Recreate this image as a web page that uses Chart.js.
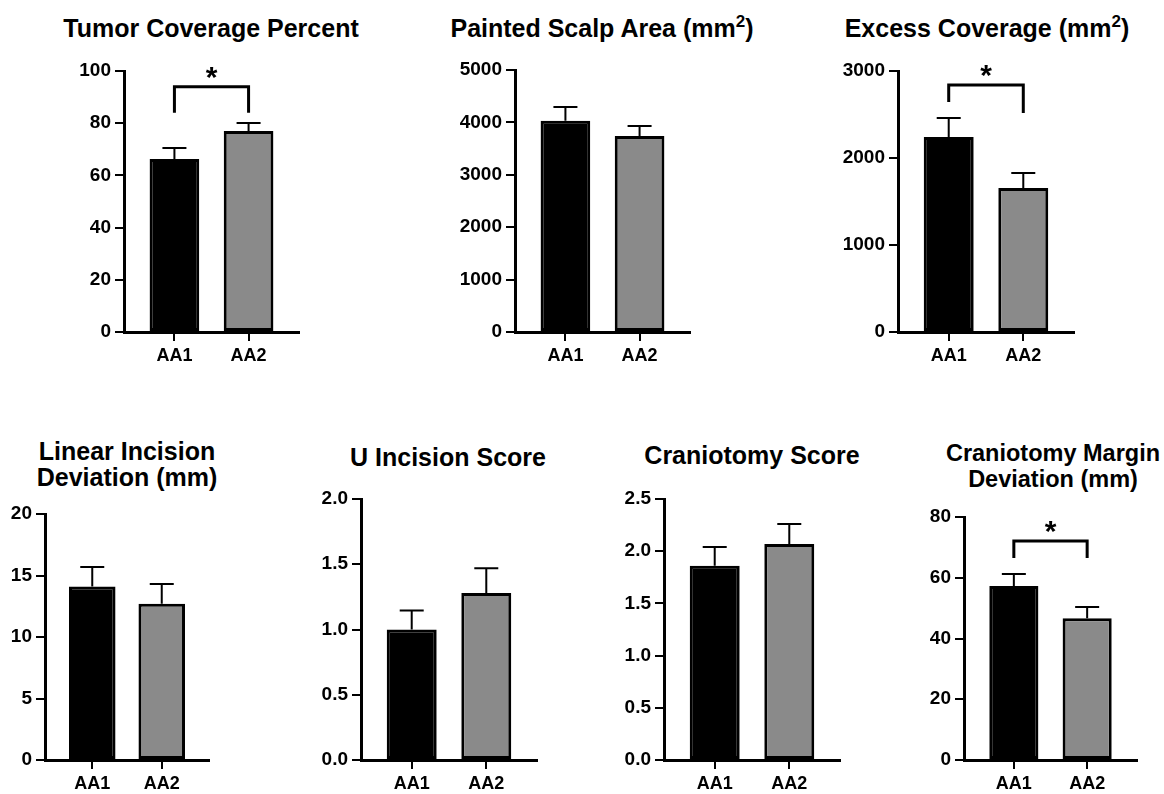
<!DOCTYPE html>
<html>
<head>
<meta charset="utf-8">
<script src="https://cdn.jsdelivr.net/npm/chart.js@4.4.1/dist/chart.umd.min.js"></script>
<style>
  body { margin: 0; background: #fff; width: 1164px; height: 794px; position: relative; overflow: hidden;
         font-family: "Liberation Sans", Arial, sans-serif; }
  .title { position: absolute; width: 400px; text-align: center; font-weight: bold; font-size: 25px;
           line-height: 26px; color: #000; white-space: nowrap; }
  .title sup { font-size: 17px; line-height: 0; vertical-align: 10px; }
  canvas { position: absolute; }
</style>
</head>
<body>
<script>
const categories = ['AA1', 'AA2'];
const groupColors = ['#000000', '#8a8a8a'];

// mean and SEM for each measure
const tumorMean = [66.3, 77.0];
const tumorSem = [4.2, 3.1];
const tumorTicks = ['0', '20', '40', '60', '80', '100'];
const tumorBracket = [84, 94, 84];

const scalpMean = [4030, 3740];
const scalpSem = [265, 190];
const scalpTicks = ['0', '1000', '2000', '3000', '4000', '5000'];

const excessMean = [2240, 1655];
const excessSem = [220, 173];
const excessTicks = ['0', '1000', '2000', '3000'];
const excessBracket = [2644, 2839, 2517];

const linearMean = [14.1, 12.7];
const linearSem = [1.6, 1.6];
const linearTicks = ['0', '5', '10', '15', '20'];

const uMean = [1.0, 1.28];
const uSem = [0.145, 0.19];
const uTicks = ['0.0', '0.5', '1.0', '1.5', '2.0'];

const cranioMean = [1.86, 2.07];
const cranioSem = [0.18, 0.19];
const cranioTicks = ['0.0', '0.5', '1.0', '1.5', '2.0', '2.5'];

const marginMean = [57.3, 46.7];
const marginSem = [3.9, 3.7];
const marginTicks = ['0', '20', '40', '60', '80'];
const marginBracket = [66.5, 72.1, 66.5];

const panels = [
  { title: 'Tumor Coverage Percent', mean: tumorMean, sem: tumorSem, ticks: tumorTicks, bracket: tumorBracket,
    axisX: 124, top: 71, bottom: 332, right: 299, titleX: 211, titleY: 15 },
  { title: 'Painted Scalp Area (mm<sup>2</sup>)', mean: scalpMean, sem: scalpSem, ticks: scalpTicks,
    axisX: 515, top: 70, bottom: 332, right: 690, titleX: 602, titleY: 15 },
  { title: 'Excess Coverage (mm<sup>2</sup>)', mean: excessMean, sem: excessSem, ticks: excessTicks, bracket: excessBracket,
    axisX: 898, top: 71, bottom: 332, right: 1074, titleX: 987, titleY: 15 },
  { title: 'Linear Incision<br>Deviation (mm)', mean: linearMean, sem: linearSem, ticks: linearTicks,
    axisX: 45, top: 514, bottom: 760, right: 209, titleX: 127, titleY: 438 },
  { title: 'U Incision Score', mean: uMean, sem: uSem, ticks: uTicks,
    axisX: 361, top: 499, bottom: 760, right: 537, titleX: 448, titleY: 444 },
  { title: 'Craniotomy Score', mean: cranioMean, sem: cranioSem, ticks: cranioTicks,
    axisX: 664, top: 499, bottom: 760, right: 840, titleX: 752, titleY: 442 },
  { title: 'Craniotomy Margin<br>Deviation (mm)', mean: marginMean, sem: marginSem, ticks: marginTicks, bracket: marginBracket,
    axisX: 964, top: 517, bottom: 760, right: 1137, titleX: 1053, titleY: 440, titleSize: 23.5 }
];

const fontFamily = '"Liberation Sans", Arial, sans-serif';

panels.forEach(p => {
  const t = document.createElement('div');
  t.className = 'title';
  t.innerHTML = p.title;
  t.style.left = (p.titleX - 200) + 'px';
  t.style.top = p.titleY + 'px';
  if (p.titleSize) t.style.fontSize = p.titleSize + 'px';
  document.body.appendChild(t);

  const YW = Math.min(72, p.axisX);
  const PT = 26, XH = 46, PR = 4;
  const w = p.right - p.axisX + YW + PR;
  const h = p.bottom - p.top + PT + XH;
  const cv = document.createElement('canvas');
  cv.width = w; cv.height = h;
  cv.style.left = (p.axisX - YW) + 'px';
  cv.style.top = (p.top - PT) + 'px';
  document.body.appendChild(cv);

  const tickVals = p.ticks.map(Number);

  new Chart(cv, {
    type: 'bar',
    data: {
      datasets: [{
        data: p.mean.map((m, i) => ({ x: i, y: m })),
        backgroundColor: groupColors,
        borderColor: '#000',
        borderWidth: 3,
        borderSkipped: false,
        categoryPercentage: 1,
        barPercentage: 0.67
      }]
    },
    options: {
      responsive: false,
      animation: false,
      layout: { padding: { top: PT, right: PR, left: 0, bottom: 0 } },
      plugins: { legend: { display: false }, tooltip: { enabled: false } },
      scales: {
        x: {
          type: 'linear', min: -0.68, max: 1.68, offset: false,
          afterBuildTicks: s => { s.ticks = categories.map((c, i) => ({ value: i })); },
          afterFit: s => { s.height = XH; },
          ticks: { callback: v => categories[v], color: '#000', padding: 4, maxRotation: 0, autoSkip: false,
                   font: { family: fontFamily, size: 18, weight: 'bold' } },
          grid: { offset: false, drawOnChartArea: false, tickLength: 9, color: '#000', lineWidth: 2 },
          border: { color: '#000', width: 3 }
        },
        y: {
          min: tickVals[0], max: tickVals[tickVals.length - 1],
          afterBuildTicks: s => { s.ticks = tickVals.map(v => ({ value: v })); },
          afterFit: s => { s.width = YW; },
          ticks: { callback: (v, i) => p.ticks[i], color: '#000', padding: 4, autoSkip: false,
                   font: { family: fontFamily, size: 19, weight: 'bold' } },
          grid: { drawOnChartArea: false, tickLength: 9, color: '#000', lineWidth: 2 },
          border: { color: '#000', width: 3 }
        }
      }
    },
    plugins: [{
      id: 'errorBars',
      afterDatasetsDraw(chart) {
        const ctx = chart.ctx, xs = chart.scales.x, ys = chart.scales.y;
        ctx.save();
        ctx.strokeStyle = '#000';
        ctx.lineWidth = 2;
        p.mean.forEach((m, i) => {
          const x = xs.getPixelForValue(i);
          const y0 = ys.getPixelForValue(m);
          const y1 = ys.getPixelForValue(m + p.sem[i]);
          ctx.beginPath();
          ctx.moveTo(x, y0); ctx.lineTo(x, y1);
          ctx.moveTo(x - 12, y1); ctx.lineTo(x + 12, y1);
          ctx.stroke();
        });
        if (p.bracket) {
          const b = p.bracket;
          const x0 = xs.getPixelForValue(0), x1 = xs.getPixelForValue(1);
          const yt = ys.getPixelForValue(b[1]);
          ctx.lineWidth = 3;
          ctx.beginPath();
          ctx.moveTo(x0, ys.getPixelForValue(b[0]));
          ctx.lineTo(x0, yt);
          ctx.lineTo(x1, yt);
          ctx.lineTo(x1, ys.getPixelForValue(b[2]));
          ctx.stroke();
          ctx.fillStyle = '#000';
          ctx.font = 'bold 30px ' + fontFamily;
          ctx.textAlign = 'center';
          ctx.textBaseline = 'alphabetic';
          ctx.fillText('*', (x0 + x1) / 2, yt);
        }
        ctx.restore();
      }
    }]
  });
});
</script>
</body>
</html>
